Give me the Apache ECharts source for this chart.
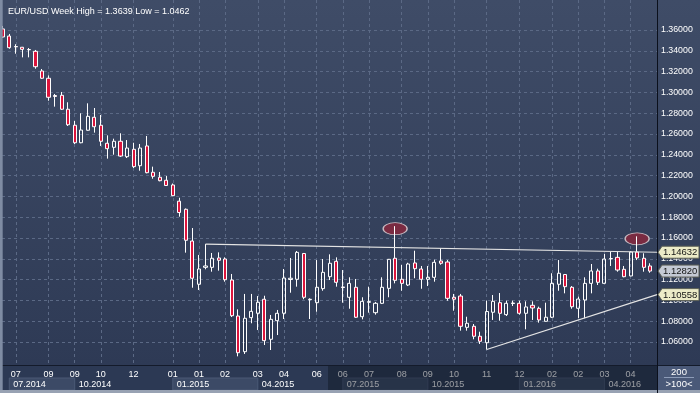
<!DOCTYPE html>
<html><head><meta charset="utf-8">
<script src="https://cdn.jsdelivr.net/npm/echarts@6/dist/echarts.min.js"></script>
<style>html,body{margin:0;padding:0;background:#2c3954;overflow:hidden}#c{width:700px;height:393px}</style>
</head><body><div id="c"></div>
<script>
const titleText = 'EUR/USD Week High = 1.3639 Low = 1.0462';
const opens = [1.3610,1.3542,1.3441,1.3434,1.3412,1.3395,1.3206,1.3136,1.2970,1.2972,
1.2838,1.2684,1.2516,1.2636,1.2761,1.2684,1.2511,1.2472,1.2530,1.2382,
1.2453,1.2295,1.2485,1.2232,1.2184,1.2155,1.2110,1.1954,1.1876,1.1571,
1.1155,1.1318,1.1318,1.1408,1.1398,1.1196,1.0850,1.0507,1.0834,1.0876,
1.1011,1.0626,1.0805,1.0876,1.1201,1.1203,1.1451,1.1007,1.0978,1.1113,
1.1228,1.1376,1.1129,1.1030,1.1126,1.0843,1.0982,1.0882,1.0972,1.1116,
1.1405,1.1203,1.1148,1.1360,1.1302,1.1203,1.1222,1.1379,1.1369,1.1030,
1.1042,1.0741,1.0751,1.0655,1.0593,1.0886,1.0978,1.0863,1.0970,1.0972,
1.0876,1.0953,1.0924,1.0799,1.0838,1.1155,1.1249,1.1126,1.0924,1.1004,
1.1164,1.1283,1.1164,1.1399,1.1414,1.1299,1.1235,1.1465,1.1405,1.1331];
const highs = [1.3639,1.3562,1.3463,1.3437,1.3427,1.3408,1.3225,1.3164,1.2985,1.3004,
1.2905,1.2725,1.2799,1.2895,1.2850,1.2783,1.2587,1.2555,1.2607,1.2542,
1.2516,1.2504,1.2581,1.2286,1.2235,1.2196,1.2124,1.1987,1.1884,1.1696,
1.1437,1.1542,1.1456,1.1462,1.1414,1.1254,1.0914,1.1062,1.1062,1.1042,
1.1045,1.0860,1.0908,1.1302,1.1408,1.1475,1.1456,1.1020,1.1388,1.1398,
1.1443,1.1414,1.1292,1.1222,1.1206,1.1030,1.1132,1.0985,1.1222,1.1398,
1.1714,1.1340,1.1362,1.1478,1.1331,1.1331,1.1391,1.1501,1.1388,1.1062,
1.1062,1.0843,1.0773,1.0699,1.0997,1.1052,1.1071,1.0997,1.0997,1.0997,
1.0991,1.0991,1.0940,1.0978,1.1261,1.1388,1.1254,1.1138,1.1036,1.1222,
1.1350,1.1305,1.1446,1.1468,1.1468,1.1331,1.1475,1.1616,1.1453,1.1357];
const lows = [1.3523,1.3420,1.3372,1.3337,1.3337,1.3228,1.3129,1.2920,1.2863,1.2831,
1.2677,1.2504,1.2511,1.2632,1.2613,1.2485,1.2363,1.2401,1.2379,1.2369,
1.2273,1.2247,1.2222,1.2170,1.2145,1.2100,1.2004,1.1805,1.1459,1.1122,
1.1100,1.1299,1.1276,1.1286,1.1180,1.0840,1.0462,1.0485,1.0780,1.0715,
1.0571,1.0523,1.0667,1.0821,1.1074,1.1132,1.1011,1.0821,1.0891,1.1093,
1.1196,1.1132,1.0978,1.0920,1.0831,1.0818,1.0882,1.0863,1.0965,1.1030,
1.1164,1.1093,1.1138,1.1213,1.1112,1.1138,1.1180,1.1343,1.0997,1.0901,
1.0709,1.0709,1.0626,1.0581,1.0528,1.0812,1.0805,1.0850,1.0946,1.0863,
1.0722,1.0812,1.0786,1.0797,1.0831,1.1093,1.1068,1.0920,1.0831,1.0828,
1.1068,1.1148,1.1162,1.1331,1.1276,1.1222,1.1232,1.1388,1.1276,1.1266];
const closes = [1.3533,1.3430,1.3438,1.3414,1.3410,1.3247,1.3136,1.2953,1.2961,1.2838,
1.2689,1.2516,1.2638,1.2770,1.2670,1.2530,1.2459,1.2530,1.2388,1.2465,
1.2286,1.2465,1.2228,1.2193,1.2151,1.2105,1.2007,1.1845,1.1578,1.1213,
1.1302,1.1331,1.1405,1.1386,1.1199,1.0853,1.0497,1.0828,1.0895,1.0982,
1.0613,1.0818,1.0876,1.1215,1.1213,1.1462,1.1030,1.1011,1.1126,1.1270,
1.1357,1.1174,1.1124,1.1164,1.0838,1.0991,1.0988,1.0972,1.1126,1.1395,
1.1193,1.1164,1.1350,1.1305,1.1203,1.1222,1.1366,1.1357,1.1020,1.1011,
1.0751,1.0780,1.0655,1.0607,1.0893,1.0991,1.0876,1.0972,1.0975,1.0876,
1.0937,1.0927,1.0812,1.0838,1.1164,1.1261,1.1132,1.0939,1.1013,1.1164,
1.1283,1.1174,1.1398,1.1403,1.1292,1.1228,1.1465,1.1408,1.1318,1.1282];
const yTicks = [1.06,1.08,1.10,1.12,1.14,1.16,1.18,1.20,1.22,1.24,1.26,1.28,1.30,1.32,1.34,1.36];
const monthTickIdx = [2,7,11,15,20,26,30,34,39,43,48,52,56,61,65,69,74,79,84,88,92,96];
const monthTickLabels = ['07','09','09','10','12','01','01','02','03','04','06','06','07','08','09','10','11','12','02','02','03','04'];
const quarterIdx = [1,11,26,39,52,65,79,92];
const quarterLabels = ['07.2014','10.2014','01.2015','04.2015','07.2015','10.2015','01.2016','04.2016'];
const resistanceFromIdx = 31, resistanceEnd = 1.14632;
const supportFromIdx = 74, supportEnd = 1.10558;
const markedIdx = [60, 97];
const cornerLabels = ['200', '>100<'];

const FONT = '"Liberation Sans", Arial, sans-serif';
const X_MIN = -0.116, X_MAX = 100.04;
const Y_MIN = 1.037885, Y_MAX = 1.388846;
const chart = echarts.init(document.getElementById('c'), null, {renderer: 'canvas', width: 700, height: 393});

const candleData = opens.map((o, i) => [i, o, closes[i], lows[i], highs[i]]);
const findLabel = (arr, labels, v) => { for (let k = 0; k < arr.length; k++) if (Math.abs(arr[k] - v) < 1e-6) return labels[k]; return ''; };

const gridLine = {show: true, lineStyle: {color: '#5b6985', type: [3, 3], width: 1}};
chart.setOption({
  animation: false,
  backgroundColor: '#2c3954',
  title: {text: titleText, left: 3, top: 2, textStyle: {color: '#ffffff', fontSize: 9, fontWeight: 'normal', fontFamily: FONT}},
  grid: {left: 2, top: 0, width: 655, height: 365},
  xAxis: [
    {type: 'value', min: X_MIN, max: X_MAX, position: 'bottom',
     axisLine: {show: false}, axisTick: {show: false, customValues: monthTickIdx}, splitLine: gridLine,
     axisLabel: {customValues: monthTickIdx, formatter: v => findLabel(monthTickIdx, monthTickLabels, v),
       color: '#ffffff', fontSize: 9, fontFamily: FONT, margin: 5, hideOverlap: false}},
    {type: 'value', min: X_MIN, max: X_MAX, position: 'bottom',
     axisLine: {show: false}, axisTick: {show: false}, splitLine: {show: false},
     axisLabel: {customValues: quarterIdx, formatter: v => findLabel(quarterIdx, quarterLabels, v),
       color: '#ffffff', fontSize: 9, fontFamily: FONT, margin: 15, align: 'left', padding: [0, 0, 0, 4], hideOverlap: false}}
  ],
  yAxis: {type: 'value', position: 'right', min: Y_MIN, max: Y_MAX,
    axisLine: {show: false}, axisTick: {show: false, customValues: yTicks}, splitLine: gridLine,
    axisLabel: {customValues: yTicks, formatter: v => v.toFixed(5), color: '#ffffff', fontSize: 8.8, fontFamily: FONT, margin: 4}},
  series: [
    {type: 'scatter', z: 1, silent: true,
     data: markedIdx.map(i => [i, highs[i]]),
     symbol: 'path://M0,10a20,10 0 1,0 40,0a20,10 0 1,0 -40,0z', symbolSize: [24, 12], symbolOffset: [0, 2.5],
     itemStyle: {color: '#7a2b42', borderColor: '#c9bcc3', borderWidth: 1, opacity: 1}},
    {type: 'candlestick', z: 2, silent: true, data: candleData, encode: {x: 0, y: [1, 2, 3, 4]},
     barWidth: 3.6,
     itemStyle: {color: 'transparent', color0: '#dc143c', borderColor: '#ffffff', borderColor0: '#ffffff', borderWidth: 1}},
    {type: 'line', z: 3, silent: true, symbol: 'none',
     data: [[resistanceFromIdx, highs[resistanceFromIdx]], [X_MAX, resistanceEnd]],
     lineStyle: {color: '#e4e4e4', width: 1.2}},
    {type: 'line', z: 3, silent: true, symbol: 'none',
     data: [[supportFromIdx, lows[supportFromIdx]], [X_MAX, supportEnd]],
     lineStyle: {color: '#e4e4e4', width: 1.2}}
  ]
});

const px = i => chart.convertToPixel({xAxisIndex: 0}, i);
const py = v => chart.convertToPixel({yAxisIndex: 0}, v);
const G = [];
G.push({type: 'rect', z: -10, silent: true, shape: {x: 0, y: 0, width: 700, height: 365},
  style: {fill: new echarts.graphic.LinearGradient(0, 0, 0, 1, [{offset: 0, color: '#3f4c67'}, {offset: 1, color: '#2e3a55'}])}});
for (let k = 0; k < quarterIdx.length; k += 2) {
  const x0 = px(quarterIdx[k]);
  const x1 = k + 1 < quarterIdx.length ? px(quarterIdx[k + 1]) : 657;
  G.push({type: 'rect', z: -5, silent: true, shape: {x: x0, y: 378, width: x1 - x0, height: 12},
    style: {fill: '#3c4a66', stroke: '#4b5975', lineWidth: 1}});
}
G.push({type: 'rect', z: 50, silent: true, shape: {x: 328, y: 366, width: 329, height: 24}, style: {fill: 'rgba(12,18,32,0.42)'}});
G.push({type: 'line', z: 60, silent: true, shape: {x1: 0, y1: 365.5, x2: 700, y2: 365.5}, style: {stroke: '#141b2b', lineWidth: 1}});
G.push({type: 'rect', z: 60, silent: true, shape: {x: 0, y: 0, width: 2.7, height: 393}, style: {fill: '#7f8ca3'}});
G.push({type: 'rect', z: 60, silent: true, shape: {x: 0, y: 390, width: 700, height: 3}, style: {fill: '#98a2b3'}});
G.push({type: 'rect', z: 55, silent: true, shape: {x: 658, y: 366, width: 42, height: 24}, style: {fill: '#4a5978'}});
G.push({type: 'line', z: 56, silent: true, shape: {x1: 664, y1: 377.5, x2: 694, y2: 377.5}, style: {stroke: '#8d9cb8', lineWidth: 1}});
G.push({type: 'text', z: 57, silent: true, style: {text: cornerLabels[0], x: 679, y: 372, align: 'center', verticalAlign: 'middle', fill: '#ffffff', font: '9.5px ' + FONT}});
G.push({type: 'text', z: 57, silent: true, style: {text: cornerLabels[1], x: 679, y: 384, align: 'center', verticalAlign: 'middle', fill: '#ffffff', font: '9.5px ' + FONT}});
G.push({type: 'line', z: 60, silent: true, shape: {x1: 657.5, y1: 0, x2: 657.5, y2: 393}, style: {stroke: '#0b101c', lineWidth: 1}});
const tags = [[resistanceEnd, '#ecebc8'], [closes[closes.length - 1], '#c4c9d4'], [supportEnd, '#ecebc8']];
tags.forEach(([v, fill]) => {
  const y = py(v);
  G.push({type: 'polygon', z: 70, silent: true,
    shape: {points: [[658, y], [662, y - 6], [699, y - 6], [699, y + 6], [662, y + 6]]},
    style: {fill: fill, stroke: '#5c5f55', lineWidth: 1}});
  G.push({type: 'text', z: 71, silent: true, style: {text: v.toFixed(5), x: 663, y: y + 0.5, align: 'left', verticalAlign: 'middle', fill: '#151515', font: '9.5px ' + FONT}});
});
chart.setOption({graphic: G});
</script></body></html>
